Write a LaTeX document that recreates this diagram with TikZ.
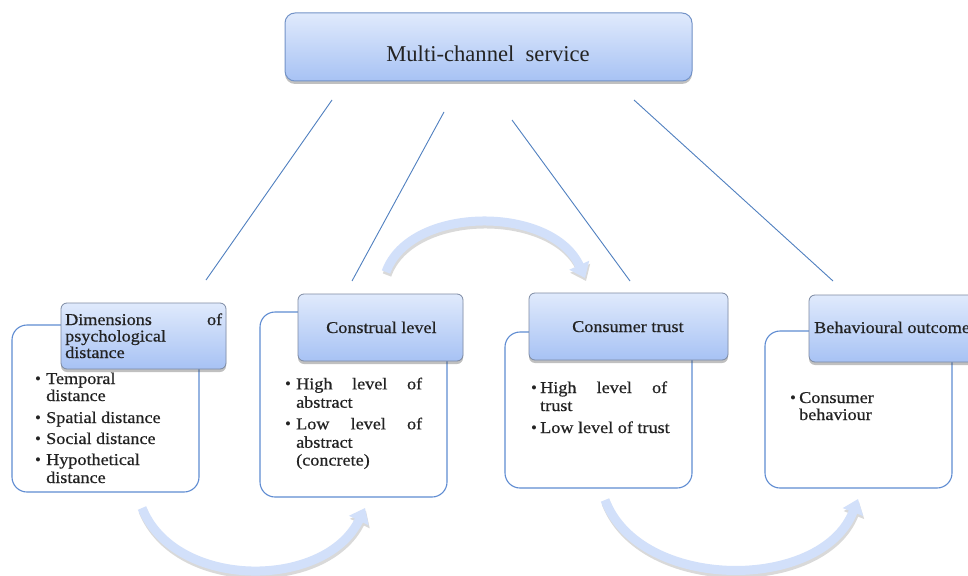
\documentclass[tikz,border=0pt]{standalone}
\usepackage{fontspec}
\setmainfont{Liberation Serif}
\newfontfamily\camfont[FakeStretch=1.1,FakeBold=0.6]{Liberation Serif}
\usetikzlibrary{arrows.meta,shadows}
\definecolor{hdtop}{HTML}{E0EAFC}
\definecolor{hdbot}{HTML}{A7C2F4}
\definecolor{topedge}{HTML}{7393C8}
\definecolor{hdedge}{HTML}{7D8AA3}
\definecolor{outedge}{HTML}{5F8CD2}
\definecolor{linecol}{HTML}{5080C0}
\definecolor{arrowcol}{HTML}{D2E0FA}
\definecolor{textcol}{HTML}{232323}
\newcommand\bodyfnt{\camfont\fontsize{16.5}{18}\selectfont}
\begin{document}
\begin{tikzpicture}[x=1pt,y=-1pt,
  topbox/.style={draw=topedge, line width=1pt, rounded corners=10pt, top color=hdtop, bottom color=hdbot,
    drop shadow={shadow xshift=0pt, shadow yshift=-3pt, opacity=0.35, fill=black!70}, inner sep=0pt},
  hdbox/.style={draw=hdedge, line width=0.8pt, rounded corners=6pt, top color=hdtop, bottom color=hdbot,
    drop shadow={shadow xshift=0pt, shadow yshift=-3pt, opacity=0.35, fill=black!70}, inner sep=0pt},
  outbox/.style={draw=outedge, line width=1.1pt, rounded corners=15pt, fill=white, inner sep=0pt},
  conn/.style={draw=linecol, line width=0.9pt},
  txt/.style={anchor=base west, inner sep=0pt, font=\bodyfnt, text=textcol},
  bul/.style={anchor=base, inner sep=0pt, font=\fontsize{17}{17}\selectfont, text=textcol},
  bigarrow/.style={line width=9pt, -{Triangle[length=14pt,width=21pt]}},
]
\clip (0,0) rectangle (968,575);
\fill[white] (0,0) rectangle (968,575);

% top box
\node[topbox, minimum width=407pt, minimum height=68pt] (top) at (488.5,47) {};
\node[anchor=base, inner sep=0pt, font=\fontsize{22.6}{26}\selectfont, text=textcol] (toptxt) at (488,62) {Multi-channel\ \ service};

% connector lines
\coordinate (a1) at (332,100); \coordinate (b1) at (206,280);
\coordinate (a2) at (444,112); \coordinate (b2) at (352,281);
\coordinate (a3) at (512,120); \coordinate (b3) at (630,281);
\coordinate (a4) at (634,100); \coordinate (b4) at (833,281);
\draw[conn] (a1) -- (b1);
\draw[conn] (a2) -- (b2);
\draw[conn] (a3) -- (b3);
\draw[conn] (a4) -- (b4);

% outer boxes
\node[outbox, minimum width=187pt, minimum height=167pt] (o1) at (105.5,408.5) {};
\node[outbox, minimum width=187pt, minimum height=185pt] (o2) at (353.5,404.5) {};
\node[outbox, minimum width=187pt, minimum height=156pt] (o3) at (598.5,410) {};
\node[outbox, minimum width=187pt, minimum height=157pt] (o4) at (858.5,409.5) {};

% header boxes
\node[hdbox, minimum width=165pt, minimum height=66pt] (h1) at (143.5,336) {};
\node[hdbox, minimum width=165pt, minimum height=67pt] (h2) at (380.5,327.5) {};
\node[hdbox, minimum width=199pt, minimum height=67pt] (h3) at (628.5,326.5) {};
\node[hdbox, minimum width=200pt, minimum height=67pt] (h4) at (909,328.5) {};

% header texts
\node[txt] (h1a) at (65,325) {\makebox[157pt][s]{Dimensions of}};
\node[txt] (h1b) at (65,341.5) {psychological};
\node[txt] (h1c) at (65,358) {distance};
\node[txt] (h2a) at (326,333) {Construal level};
\node[txt] (h3a) at (572,332) {Consumer trust};
\node[txt] (h4a) at (814,333) {Behavioural outcome};

% box 1 bullets
\node[bul] (d1) at (38,384) {\textbullet};
\node[txt] (t1a) at (46,384) {Temporal};
\node[txt] (t1b) at (46,401) {distance};
\node[bul] (d2) at (38,423) {\textbullet};
\node[txt] (t2) at (46,423) {Spatial distance};
\node[bul] (d3) at (38,444) {\textbullet};
\node[txt] (t3) at (46,444) {Social distance};
\node[bul] (d4) at (38,465) {\textbullet};
\node[txt] (t4a) at (46,465) {Hypothetical};
\node[txt] (t4b) at (46,483) {distance};

% box 2 bullets
\node[bul] (e1) at (288,389.3) {\textbullet};
\node[txt] (u1a) at (296,389.3) {\makebox[126pt][s]{High level of}};
\node[txt] (u1b) at (296,407.7) {abstract};
\node[bul] (e2) at (288,429.3) {\textbullet};
\node[txt] (u2a) at (296,429.3) {\makebox[126pt][s]{Low level of}};
\node[txt] (u2b) at (296,447.7) {abstract};
\node[txt] (u2c) at (296,465.5) {(concrete)};

% box 3 bullets
\node[bul] (f1) at (534,393) {\textbullet};
\node[txt] (v1a) at (540,393) {\makebox[127pt][s]{High level of}};
\node[txt] (v1b) at (540,411) {trust};
\node[bul] (f2) at (534,433) {\textbullet};
\node[txt] (v2) at (540,433) {Low level of trust};

% box 4 bullets
\node[bul] (g1) at (793,403) {\textbullet};
\node[txt] (w1a) at (799,403) {Consumer};
\node[txt] (w1b) at (799,420) {behaviour};

% curved arrows
\coordinate (s1) at (142,508); \coordinate (e1t) at (365,508);
\coordinate (s2) at (386,272); \coordinate (e2t) at (585,278);
\coordinate (s3) at (605,500); \coordinate (e3t) at (858,499);
\begin{scope}[transparency group, opacity=0.15]
  \draw[bigarrow, draw=black, transform canvas={xshift=1pt, yshift=-3pt}]
    (s1) .. controls (175,590) and (325,590) .. (e1t);
  \draw[bigarrow, draw=black, transform canvas={xshift=1pt, yshift=-3pt}]
    (s2) .. controls (410,205) and (552,205) .. (e2t);
  \draw[bigarrow, draw=black, transform canvas={xshift=1pt, yshift=-3pt}]
    (s3) .. controls (640,592) and (822,592) .. (e3t);
\end{scope}
\draw[bigarrow, draw=arrowcol] (s1) .. controls (175,590) and (325,590) .. (e1t);
\draw[bigarrow, draw=arrowcol] (s2) .. controls (410,205) and (552,205) .. (e2t);
\draw[bigarrow, draw=arrowcol] (s3) .. controls (640,592) and (822,592) .. (e3t);
\end{tikzpicture}
\end{document}
